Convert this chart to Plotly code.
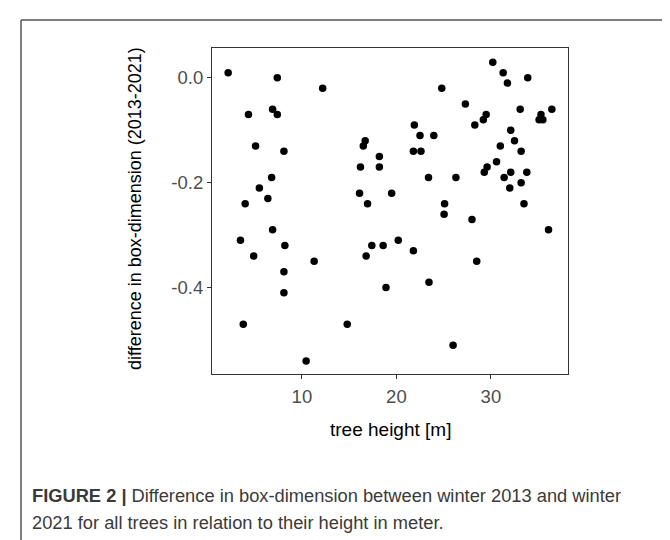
import plotly.graph_objects as go

# tree height [m]
tree_height = [2.2, 7.4, 12.2, 4.35, 6.9, 7.4, 5.1, 8.1, 16.7, 16.5, 18.2, 16.2, 18.2, 6.8, 5.5, 6.4,
               4.0, 16.1, 16.95, 30.2, 31.3, 31.75, 33.9, 24.8, 27.3, 33.1, 36.45, 35.3, 35.1, 35.5,
               29.5, 29.2, 28.3, 21.9, 22.5, 23.96, 32.1, 32.5, 31.0, 33.2, 21.8, 22.6, 30.6, 29.6,
               29.3, 32.1, 31.4, 33.8, 33.2, 32.0, 23.4, 26.3, 19.5, 33.5, 25.1, 25.05, 28.0, 36.1,
               18.6, 20.2, 21.8, 28.5, 18.9, 23.45, 26.0, 6.9, 3.5, 8.2, 4.9, 11.3, 8.1, 8.1, 17.4,
               16.8, 3.8, 14.8, 10.45]
# difference in box-dimension (2013-2021)
box_dim_diff = [0.01, 0.0, -0.02, -0.07, -0.06, -0.07, -0.13, -0.14, -0.12, -0.13, -0.15, -0.17, -0.17,
                -0.19, -0.21, -0.23, -0.24, -0.22, -0.24, 0.03, 0.01, -0.01, 0.0, -0.02, -0.05, -0.06,
                -0.06, -0.07, -0.08, -0.08, -0.07, -0.08, -0.09, -0.09, -0.11, -0.11, -0.10, -0.12,
                -0.13, -0.14, -0.14, -0.14, -0.16, -0.17, -0.18, -0.18, -0.19, -0.18, -0.20, -0.21,
                -0.19, -0.19, -0.22, -0.24, -0.24, -0.26, -0.27, -0.29, -0.32, -0.31, -0.33, -0.35,
                -0.40, -0.39, -0.51, -0.29, -0.31, -0.32, -0.34, -0.35, -0.37, -0.41, -0.32, -0.34,
                -0.47, -0.47, -0.54]

x_tickvals = [10, 20, 30]
x_ticktext = ["10", "20", "30"]
y_tickvals = [0.0, -0.2, -0.4]
y_ticktext = ["0.0", "-0.2", "-0.4"]

x_title = "tree height [m]"
y_title = "difference in box-dimension (2013-2021)"
caption_line1 = "<b>FIGURE 2 |</b> Difference in box-dimension between winter 2013 and winter"
caption_line2 = "2021 for all trees in relation to their height in meter."

W, H = 670, 540
L, R, T, B = 204, 110, 40, 174
pw, ph = W - L - R, H - T - B


def px_x(px):
    return (px - L) / pw


def px_y(py):
    return (H - B - py) / ph


fig = go.Figure()
fig.add_trace(go.Scatter(
    x=tree_height, y=box_dim_diff, mode="markers",
    marker=dict(color="black", size=7.5, line=dict(width=0)),
    showlegend=False, hoverinfo="skip",
))

axis_common = dict(
    showgrid=False, zeroline=False, showline=True, mirror=True,
    linecolor="#333333", linewidth=1.1,
    ticks="outside", ticklen=4, tickwidth=1.1, tickcolor="#333333",
    tickfont=dict(family="Liberation Sans, Arial, sans-serif", size=18.5, color="#4D4D4D"),
)
fig.update_xaxes(range=[0.49, 38.16], tickvals=x_tickvals, ticktext=x_ticktext,
                 ticklabelstandoff=2, **axis_common)
fig.update_yaxes(range=[-0.565, 0.057], tickvals=y_tickvals, ticktext=y_ticktext, **axis_common)

annotations = [
    dict(text=x_title, x=0.5, y=px_y(421), xref="paper", yref="paper",
         xanchor="center", yanchor="middle", showarrow=False,
         font=dict(family="Liberation Sans, Arial, sans-serif", size=19, color="black")),
    dict(text=y_title, x=px_x(127), y=px_y(201), xref="paper", yref="paper",
         xanchor="center", yanchor="middle", showarrow=False, textangle=-90,
         font=dict(family="Liberation Sans, Arial, sans-serif", size=18, color="black")),
    dict(text=caption_line1, x=px_x(22), y=px_y(487), xref="paper", yref="paper",
         xanchor="left", yanchor="middle", showarrow=False,
         font=dict(family="Liberation Sans, Arial, sans-serif", size=18.3, color="#3a3a3a")),
    dict(text=caption_line2, x=px_x(22), y=px_y(514), xref="paper", yref="paper",
         xanchor="left", yanchor="middle", showarrow=False,
         font=dict(family="Liberation Sans, Arial, sans-serif", size=18.3, color="#3a3a3a")),
]

shapes = [
    dict(type="line", xref="paper", yref="paper", x0=px_x(13), x1=px_x(13),
         y0=px_y(12), y1=px_y(560), line=dict(color="#555555", width=1.5)),
    dict(type="line", xref="paper", yref="paper", x0=px_x(13), x1=px_x(690),
         y0=px_y(12), y1=px_y(12), line=dict(color="#555555", width=1.5)),
]

fig.update_layout(
    width=W, height=H,
    margin=dict(l=L, r=R, t=T, b=B, pad=0),
    paper_bgcolor="white", plot_bgcolor="white",
    annotations=annotations, shapes=shapes,
)

fig.write_html("out.html")
